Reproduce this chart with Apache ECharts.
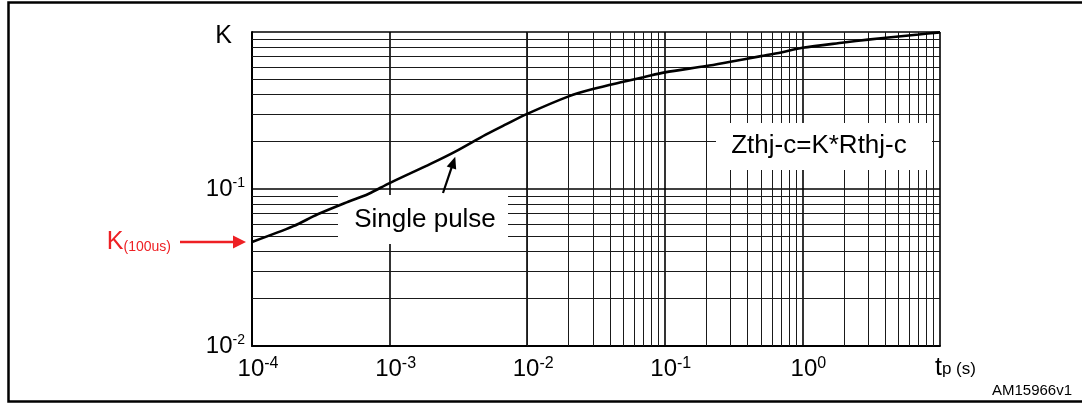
<!DOCTYPE html>
<html><head><meta charset="utf-8">
<script src="https://cdn.jsdelivr.net/npm/echarts@6/dist/echarts.min.js"></script>
<style>html,body{margin:0;padding:0;background:#fff;}#c{width:1082px;height:405px;}</style>
</head><body><div id="c"></div>
<script>
// ---- data ----
const pulseWidth = [1e-4,2e-4,3e-4,5e-4,7e-4,1e-3,2e-3,3e-3,5e-3,7e-3,1e-2,2e-2,3e-2,5e-2,7e-2,0.1,0.2,0.3,0.5,0.7,1,2,3,5,7,10];
const kValues    = [0.046,0.058,0.069,0.083,0.093,0.109,0.145,0.173,0.222,0.258,0.301,0.389,0.433,0.482,0.515,0.553,0.607,0.647,0.702,0.741,0.793,0.857,0.894,0.937,0.964,0.995];
const xTickLabels = ['10^-4','10^-3','10^-2','10^-1','10^0',''];
const yTickLabels = ['10^-2','10^-1','K'];
const gridMultipliers = [2,3,4,5,6,7,8,9];
const xDecades = [-4,-3,-2,-1,0];
const yDecades = [-2,-1];

const FONT = '"Liberation Sans", Arial, Helvetica, sans-serif';
function sup(label){
  if(!label) return '';
  const p = label.split('^');
  if(p.length < 2) return '{k|' + p[0] + '}';
  return '{b|' + p[0] + '}{e|' + p[1] + '}';
}
const xMinor = [], yMinor = [];
xDecades.forEach(e => gridMultipliers.forEach(m => xMinor.push(m * Math.pow(10, e))));
yDecades.forEach(e => gridMultipliers.forEach(m => yMinor.push(m * Math.pow(10, e))));

const chart = echarts.init(document.getElementById('c'));
const option = {
  animation: false,
  backgroundColor: '#fff',
  grid: {left: 252, right: 142, top: 32, bottom: 59},
  xAxis: {
    type: 'log', logBase: 10, min: 1e-4, max: 10, splitNumber: 5,
    axisLine: {show: true, onZero: false, lineStyle: {color: '#000', width: 2}},
    axisTick: {show: false},
    splitLine: {show: true, lineStyle: {color: '#000', width: 1.6}},
    axisLabel: {
      margin: 10, padding: [0, 0, 0, 12],
      formatter: v => sup(xTickLabels[Math.round(Math.log10(v)) + 4]),
      rich: {
        b: {fontSize: 24, fontFamily: FONT, color: '#000', lineHeight: 26},
        e: {fontSize: 16, fontFamily: FONT, color: '#000', verticalAlign: 'top', lineHeight: 16}
      }
    }
  },
  yAxis: {
    type: 'log', logBase: 10, min: 0.01, max: 1, splitNumber: 2,
    axisLine: {show: true, onZero: false, lineStyle: {color: '#000', width: 2}},
    axisTick: {show: false},
    splitLine: {show: true, lineStyle: {color: '#000', width: 1.6}},
    axisLabel: {
      margin: 7,
      formatter: v => sup(yTickLabels[Math.round(Math.log10(v)) + 2]),
      rich: {
        b: {fontSize: 24, fontFamily: FONT, color: '#000', lineHeight: 26},
        e: {fontSize: 14, fontFamily: FONT, color: '#000', verticalAlign: 'top', lineHeight: 14},
        k: {fontSize: 25, fontFamily: FONT, color: '#000', padding: [8, 13, 0, 0]}
      }
    }
  },
  series: [
    {
      type: 'line', name: 'grid', z: 1, silent: true, data: [],
      markLine: {
        z: 1, silent: true, animation: false, symbol: ['none', 'none'],
        label: {show: false},
        lineStyle: {color: '#1a1a1a', width: 1, type: 'solid'},
        emphasis: {disabled: true},
        data: xMinor.map(v => ({xAxis: v})).concat(yMinor.map(v => ({yAxis: v})))
      }
    },
    {
      type: 'line', name: 'Single pulse', z: 10, smooth: 0.3,
      showSymbol: false, symbol: 'none',
      lineStyle: {color: '#000', width: 2.6},
      data: pulseWidth.map((t, i) => [t, kValues[i]])
    }
  ]
};
chart.setOption(option);

// annotations anchored to data points
const pStart = chart.convertToPixel({seriesIndex: 1}, [pulseWidth[0], kValues[0]]);
const pArrow = chart.convertToPixel({seriesIndex: 1}, [pulseWidth[7], kValues[7]]);
const gridLeft = chart.convertToPixel({xAxisIndex: 0}, pulseWidth[0]);

function arrow(x0, y0, x1, y1, headLen, headHalf, color, width, z){
  const dx = x1 - x0, dy = y1 - y0, L = Math.sqrt(dx*dx + dy*dy);
  const ux = dx / L, uy = dy / L, nx = -uy, ny = ux;
  const bx = x1 - ux * headLen, by = y1 - uy * headLen;
  return [
    {type: 'line', z: z, shape: {x1: x0, y1: y0, x2: bx + ux, y2: by + uy}, style: {stroke: color, lineWidth: width}},
    {type: 'polygon', z: z, shape: {points: [[x1, y1], [bx + nx*headHalf, by + ny*headHalf], [bx - nx*headHalf, by - ny*headHalf]]}, style: {fill: color}}
  ];
}

const RED = '#ee2024';
const tipY = pStart[1];
const graphics = [
  {type: 'rect', z: 50, shape: {x: 8.5, y: 2.5, width: 1100, height: 399}, style: {fill: 'none', stroke: '#000', lineWidth: 2.5}},
  // Single pulse box
  {type: 'rect', z: 4, shape: {x: 338, y: 195, width: 170, height: 49}, style: {fill: '#fff'}},
  {type: 'text', z: 12, style: {text: 'Single pulse', x: 425, y: 220, align: 'center', verticalAlign: 'middle', fontSize: 26, fontFamily: FONT, fill: '#000'}},
  // formula box
  {type: 'rect', z: 4, shape: {x: 716, y: 123, width: 216, height: 47}, style: {fill: '#fff'}},
  {type: 'text', z: 12, style: {text: 'Zthj-c=K*Rthj-c', x: 819, y: 146, align: 'center', verticalAlign: 'middle', fontSize: 26, fontFamily: FONT, fill: '#000'}},
  // K(100us)
  {type: 'text', z: 12, style: {text: '{k|K}{s|(100us)}', x: 171, y: tipY, align: 'right', verticalAlign: 'middle',
    rich: {k: {fontSize: 25, fontFamily: FONT, fill: RED, color: RED}, s: {fontSize: 14, fontFamily: FONT, fill: RED, color: RED, verticalAlign: 'bottom'}}}},
  // x axis name
  {type: 'text', z: 12, style: {text: '{t|t}{p|p (s)}', x: 935, y: 368, align: 'left', verticalAlign: 'middle',
    rich: {t: {fontSize: 25, fontFamily: FONT, fill: '#000', color: '#000'}, p: {fontSize: 17, fontFamily: FONT, fill: '#000', color: '#000', verticalAlign: 'bottom', padding: [0, 0, 3, 0]}}}},
  {type: 'text', z: 12, style: {text: 'AM15966v1', x: 992, y: 391, align: 'left', verticalAlign: 'middle', fontSize: 15, fontFamily: FONT, fill: '#000'}}
];
arrow(180, tipY, gridLeft - 6, tipY, 13, 6.5, RED, 2.5, 12).forEach(g => graphics.push(g));
arrow(443, 193, pArrow[0], pArrow[1] + 5, 12, 5, '#000', 2.2, 12).forEach(g => graphics.push(g));
chart.setOption({graphic: graphics});
</script>
</body></html>
